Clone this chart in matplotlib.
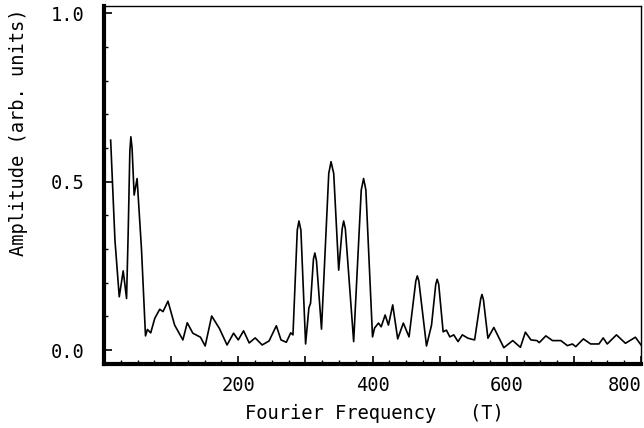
import numpy as np
import matplotlib
matplotlib.use('Agg')
import matplotlib.pyplot as plt
from matplotlib.ticker import MultipleLocator

# Fourier spectrum
freq = [9.9, 16.3, 22.7, 28.6, 33.6, 36.0, 38.5, 40.0, 41.8, 44.9, 49.3, 55.9,
        61.8, 64.7, 69.6, 75.6, 83.0, 87.9, 95.3, 105.2, 117.5, 124.0,
        132.3, 143.7, 150.7, 160.4, 171.9, 183.3, 193.0, 200.0, 207.9, 216.3,
        225.2, 235.6, 245.9, 256.7, 263.7, 271.6, 278.1, 281.5, 287.9, 290.4,
        293.3, 300.3, 305.2, 307.7, 312.0, 314.1, 316.5, 324.0, 334.8, 338.2,
        342.2, 349.6, 354.8, 357.0, 359.5, 364.4, 371.9, 383.2, 386.7, 390.1,
        400.0, 403.0, 408.9, 412.9, 418.8, 423.7, 430.1, 437.5, 445.9, 454.4,
        464.5, 466.7, 469.0, 480.4, 487.9, 494.2, 496.3, 498.6, 505.2, 510.1,
        515.1, 521.0, 527.4, 533.8, 542.2, 552.1, 561.0, 563.0, 565.2, 571.9,
        580.7, 595.6, 608.9, 620.3, 627.7, 636.0,
        644.9, 648.4, 658.2, 668.1, 680.5, 690.4, 697.8, 702.7, 714.1, 724.9,
        737.3, 743.7, 749.6, 763.4, 776.8, 791.6, 800.0]
amp = [0.623, 0.326, 0.158, 0.235, 0.153, 0.347, 0.590, 0.633, 0.600, 0.460, 0.509, 0.297,
       0.042, 0.061, 0.051, 0.094, 0.121, 0.114, 0.145, 0.074, 0.030, 0.081,
       0.050, 0.038, 0.012, 0.101, 0.064, 0.015, 0.050, 0.030, 0.057, 0.021,
       0.036, 0.015, 0.027, 0.072, 0.030, 0.023, 0.051, 0.045, 0.356, 0.383,
       0.356, 0.018, 0.125, 0.139, 0.270, 0.288, 0.265, 0.062, 0.524, 0.559,
       0.524, 0.237, 0.360, 0.383, 0.360, 0.228, 0.025, 0.475, 0.509, 0.475,
       0.039, 0.065, 0.080, 0.069, 0.104, 0.074, 0.134, 0.033, 0.080, 0.039,
       0.205, 0.220, 0.205, 0.012, 0.074, 0.195, 0.210, 0.195, 0.054, 0.059,
       0.039, 0.045, 0.025, 0.045, 0.035, 0.030, 0.150, 0.165, 0.150, 0.035,
       0.067, 0.007, 0.028, 0.008, 0.053, 0.030,
       0.028, 0.022, 0.042, 0.028, 0.028, 0.013, 0.018, 0.010, 0.033, 0.018,
       0.018, 0.036, 0.018, 0.045, 0.020, 0.038, 0.015]

xticks = [100, 200, 300, 400, 500, 600, 700, 800]
xtick_labels = ['', '200', '', '400', '', '600', '', '800']
yticks = [0.0, 0.5, 1.0]
ytick_labels = ['0.0', '0.5', '1.0']

plt.rcParams['font.family'] = 'DejaVu Sans Mono'

fig = plt.figure(figsize=(6.44, 4.28), dpi=100)
ax = fig.add_axes([0.1615, 0.1507, 0.8339, 0.8343])

ax.plot(freq, amp, color='black', lw=1.2)

ax.set_xlim(0, 800)
ax.set_ylim(-0.04, 1.02)

ax.set_xticks(xticks)
ax.set_xticklabels(xtick_labels, fontsize=13.5)
ax.xaxis.set_minor_locator(MultipleLocator(25))
ax.set_yticks(yticks)
ax.set_yticklabels(ytick_labels, fontsize=13.5)
ax.yaxis.set_minor_locator(MultipleLocator(0.1))

ax.tick_params(axis='both', which='major', direction='in', length=6, width=1.2, color='black')
ax.tick_params(axis='both', which='minor', direction='in', length=3, width=1.0, color='black')
ax.tick_params(axis='x', which='major', pad=9)
ax.tick_params(axis='y', which='major', pad=14)

for side in ['left', 'bottom']:
    ax.spines[side].set_linewidth(3.0)
for side in ['top', 'right']:
    ax.spines[side].set_linewidth(1.0)

lbls = ax.get_xticklabels()
lbls[-1].set_horizontalalignment('right')

fig.text(0.028, 0.692, 'Amplitude (arb. units)', rotation=90,
         ha='center', va='center', fontsize=13.5)
fig.text(0.582, 0.033, 'Fourier Frequency   (T)', ha='center', va='center', fontsize=13.5)

fig.savefig('out.png', dpi=100)
